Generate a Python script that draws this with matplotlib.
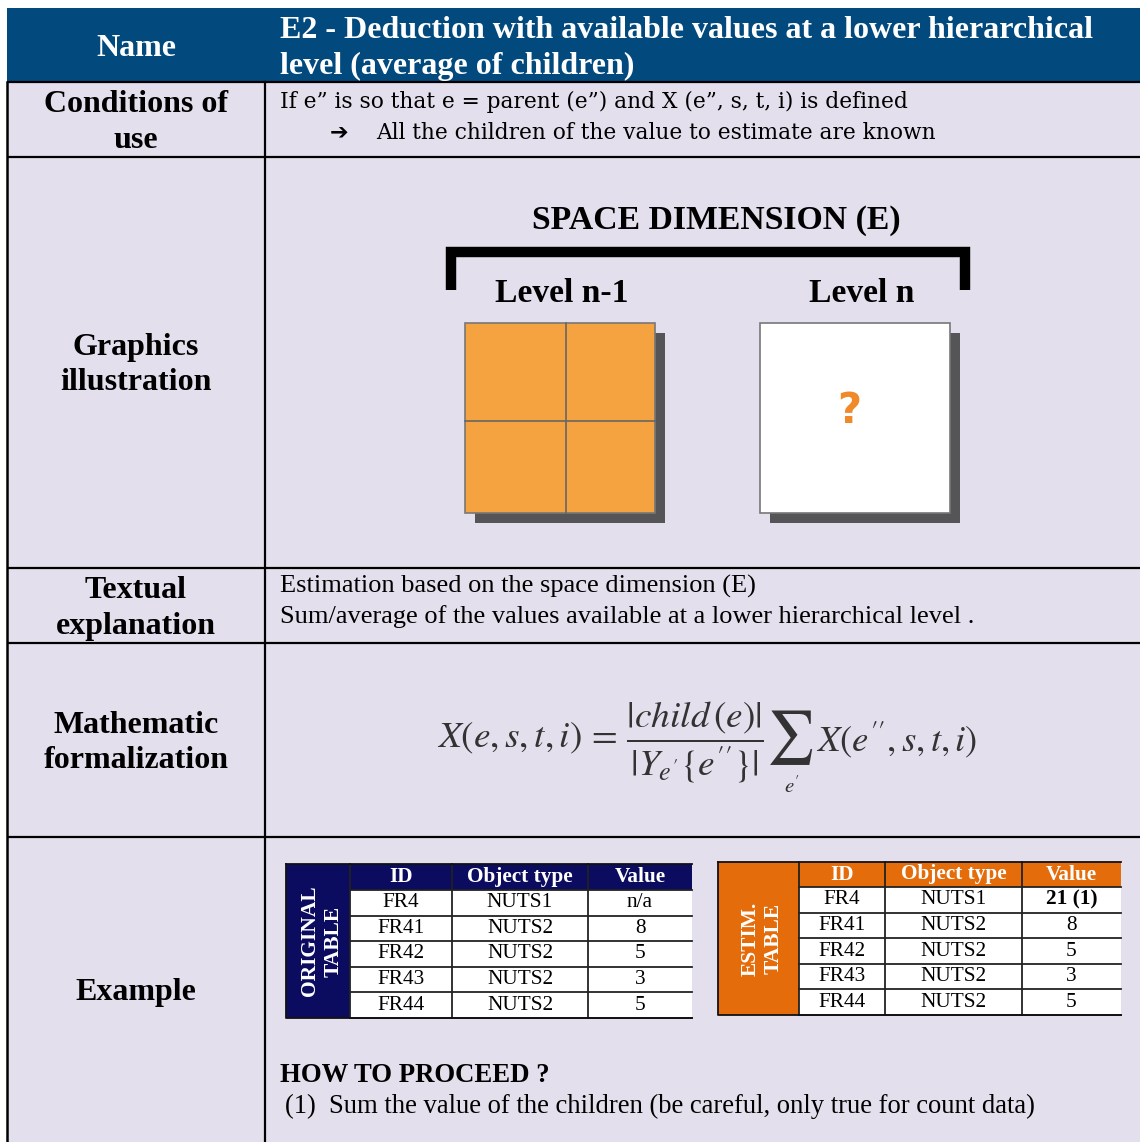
import matplotlib
matplotlib.use("Agg")
import matplotlib.pyplot as plt
from matplotlib.patches import Rectangle

# colours
NAVY = "#02497D"
LAVENDER = "#E4DFEC"
DARK_BLUE = "#0B0B60"
ORANGE = "#E46C0A"
SQ_ORANGE = "#F4A340"
SHADOW = "#555558"
SERIF = "Liberation Serif"

# left column labels and row boundaries (pixels, top to bottom)
row_labels = ["Name", "Conditions of\nuse", "Graphics\nillustration",
              "Textual\nexplanation", "Mathematic\nformalization", "Example"]
row_edges = [8, 82, 157, 568, 643, 837, 1142]

title_lines = ["E2 - Deduction with available values at a lower hierarchical",
               "level (average of children)"]
cond_lines = ["If e\u201d is so that e = parent (e\u201d) and X (e\u201d, s, t, i) is defined",
              "All the children of the value to estimate are known"]
text_lines = ["Estimation based on the space dimension (E)",
              "Sum/average of the values available at a lower hierarchical level ."]

# example tables
col_headers = ["ID", "Object type", "Value"]
ids = ["FR4", "FR41", "FR42", "FR43", "FR44"]
obj_types = ["NUTS1", "NUTS2", "NUTS2", "NUTS2", "NUTS2"]
orig_values = ["n/a", "8", "5", "3", "5"]
estim_values = ["21 (1)", "8", "5", "3", "5"]

W, H = 1140, 1142
fig = plt.figure(figsize=(W / 100, H / 100), dpi=100)
ax = fig.add_axes([0, 0, 1, 1])
ax.set_xlim(0, W)
ax.set_ylim(H, 0)
ax.axis("off")

X0, XC, X1 = 7, 265, 1140

# header + body backgrounds
ax.add_patch(Rectangle((X0, row_edges[0]), X1 - X0, row_edges[1] - row_edges[0],
                       facecolor=NAVY, edgecolor="none"))
ax.add_patch(Rectangle((X0, row_edges[1]), X1 - X0, H - row_edges[1],
                       facecolor=LAVENDER, edgecolor="none"))
for y in row_edges[1:-1]:
    ax.plot([X0, X1], [y, y], color="black", lw=1.6, solid_capstyle="butt")
ax.plot([X0, X0], [row_edges[1], H], color="black", lw=1.8)
ax.plot([XC, XC], [row_edges[1], H], color="black", lw=1.6)

# left column labels
for i, lab in enumerate(row_labels):
    yc = (row_edges[i] + row_edges[i + 1]) / 2 + 3
    if i == 2:
        yc = 365
    ax.text(136, yc, lab, ha="center", va="center", family=SERIF, weight="bold",
            fontsize=23, color="white" if i == 0 else "black", linespacing=1.3)

# title
ax.text(280, 30, title_lines[0], ha="left", va="center", family=SERIF,
        weight="bold", fontsize=23, color="white")
ax.text(280, 66, title_lines[1], ha="left", va="center", family=SERIF,
        weight="bold", fontsize=23, color="white")

# conditions
ax.text(280, 102, cond_lines[0], ha="left", va="center", family="DejaVu Serif",
        fontsize=15.7, color="black")
ax.text(330, 133, "\u2794", ha="left", va="center", family="DejaVu Sans",
        weight="bold", fontsize=16, color="black")
ax.text(376, 133, cond_lines[1], ha="left", va="center", family="DejaVu Serif",
        fontsize=15.7, color="black")

# graphics illustration
ax.text(716, 220, "SPACE DIMENSION (E)", ha="center", va="center", family=SERIF,
        weight="bold", fontsize=24.3, color="black")
ax.plot([451, 451, 965, 965], [290, 252, 252, 290], color="black", lw=7.5,
        solid_joinstyle="miter", solid_capstyle="butt")
ax.text(562, 294, "Level n-1", ha="center", va="center", family=SERIF,
        weight="bold", fontsize=24.2, color="black")
ax.text(862, 294, "Level n", ha="center", va="center", family=SERIF,
        weight="bold", fontsize=24.2, color="black")

sq = 190
for x, fc in [(465, SQ_ORANGE), (760, "white")]:
    ax.add_patch(Rectangle((x + 10, 333), sq, sq, facecolor=SHADOW, edgecolor="none"))
    ax.add_patch(Rectangle((x, 323), sq, sq, facecolor=fc, edgecolor="#777777", lw=1.2))
ax.plot([566, 566], [323, 513], color="#666666", lw=1.2)
ax.plot([465, 655], [421, 421], color="#666666", lw=1.2)
ax.text(849, 411, "?", ha="center", va="center", family="DejaVu Sans",
        weight="bold", fontsize=30, color="#F0892A")

# textual explanation
ax.text(280, 586, text_lines[0], ha="left", va="center", family=SERIF,
        fontsize=19, color="black")
ax.text(280, 617, text_lines[1], ha="left", va="center", family=SERIF,
        fontsize=19, color="black")

# formula, built from pieces so the sum sign can be big
plt.rcParams["mathtext.fontset"] = "stix"
FCOL = "#333333"
ax.text(764, 742, r"$X(e,s,t,i)\,=\,\dfrac{|child\,(e)|}{|Y_{e'}\{e''\}|}$",
        ha="right", va="center", fontsize=26.8, color=FCOL)
ax.text(790, 738, r"$\sum$", ha="center", va="center", fontsize=38, color=FCOL)
ax.text(792, 786, r"$e'$", ha="center", va="center", fontsize=15, color=FCOL)
ax.text(816, 740, r"$X(e'',s,t,i)$", ha="left", va="center", fontsize=26.5, color=FCOL)


def draw_table(x0, y0, widths, row_h, head_h, color, side_label, values):
    side_w, *cols = widths
    total_h = head_h + row_h * len(ids)
    ax.add_patch(Rectangle((x0, y0), side_w, total_h, facecolor=color, edgecolor="none"))
    ax.text(x0 + side_w / 2 + 4, y0 + total_h / 2, side_label, rotation=90,
            ha="center", va="center", family=SERIF, weight="bold",
            fontsize=15.5, color="white", linespacing=1.2)
    xs = [x0 + side_w]
    for w in cols:
        xs.append(xs[-1] + w)
    ax.add_patch(Rectangle((xs[0], y0), xs[-1] - xs[0], head_h, facecolor=color,
                           edgecolor="none"))
    ax.add_patch(Rectangle((xs[0], y0 + head_h), xs[-1] - xs[0], row_h * len(ids),
                           facecolor="white", edgecolor="none"))
    for j, h in enumerate(col_headers):
        ax.text((xs[j] + xs[j + 1]) / 2, y0 + head_h / 2, h, ha="center", va="center",
                family=SERIF, weight="bold", fontsize=15.3, color="white")
    for r in range(len(ids)):
        yc = y0 + head_h + row_h * (r + 0.5)
        row = [ids[r], obj_types[r], values[r]]
        for j, v in enumerate(row):
            bold = (j == 2 and "(" in v)
            ax.text((xs[j] + xs[j + 1]) / 2, yc, v, ha="center", va="center",
                    family=SERIF, weight="bold" if bold else "normal",
                    fontsize=15.3, color="black")
    # grid lines
    for r in range(1, len(ids) + 1):
        y = y0 + head_h + row_h * r
        ax.plot([xs[0], xs[-1]], [y, y], color="#222222", lw=1.3)
    ax.plot([xs[0], xs[-1]], [y0 + head_h, y0 + head_h], color="#222222", lw=1.3)
    for x in xs[:-1]:
        ax.plot([x, x], [y0, y0 + total_h], color="#222222", lw=1.3)
    ax.plot([x0, x0, xs[-1]], [y0, y0 + total_h, y0 + total_h], color="#111111", lw=1.3)
    ax.plot([x0, xs[-1]], [y0, y0], color="#111111", lw=1.3)


draw_table(286, 864, [64, 102, 136, 104], 25.6, 26, DARK_BLUE,
           "ORIGINAL\nTABLE", orig_values)
draw_table(718, 862, [81, 86, 137, 99], 25.6, 25, ORANGE,
           "ESTIM.\nTABLE", estim_values)

ax.text(280, 1076, "HOW TO PROCEED ?", ha="left", va="center", family=SERIF,
        weight="bold", fontsize=19.3, color="black")
ax.text(285, 1106, "(1)  Sum the value of the children (be careful, only true for count data)",
        ha="left", va="center", family=SERIF, fontsize=19.2, color="black")

fig.savefig("out.png", dpi=100, facecolor="white")
